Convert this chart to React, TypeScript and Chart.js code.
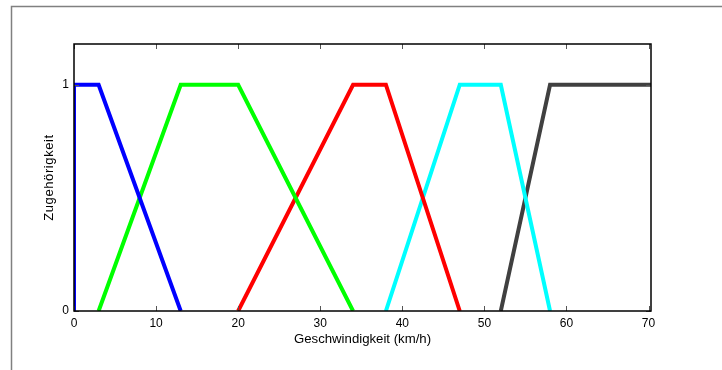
import React, { useEffect, useRef } from "react";
import { Chart, registerables } from "chart.js";

Chart.register(...registerables);

// Membership functions (x: km/h, y: membership)
const blueX = [0, 0, 3, 13];
const blueY = [0, 1, 1, 0];
const greenX = [3, 13, 20, 34];
const greenY = [0, 1, 1, 0];
const redX = [20, 34, 38, 47];
const redY = [0, 1, 1, 0];
const cyanX = [38, 47, 52, 58];
const cyanY = [0, 1, 1, 0];
const darkX = [52, 58, 70.3];
const darkY = [0, 1, 1];

const xTicks = [0, 10, 20, 30, 40, 50, 60, 70];
const yTicks = [0, 1];
const xMin = 0;
const xMax = 70.3;
const yMin = 0;
const yMax = 1.18;

const xTitle = "Geschwindigkeit (km/h)";
const yTitle = "Zugehörigkeit";

const series = [
  { xs: blueX, ys: blueY, color: "#0000ff" },
  { xs: greenX, ys: greenY, color: "#00ff00" },
  { xs: redX, ys: redY, color: "#ff0000" },
  { xs: cyanX, ys: cyanY, color: "#00ffff" },
  { xs: darkX, ys: darkY, color: "#404040" },
];

const FONT = "'Liberation Sans', Arial, Helvetica, sans-serif";

const framePlugin = {
  id: "framePlugin",
  afterLayout(chart: any) {
    const ys = chart.scales.y;
    if (ys && !ys.__patched) {
      const orig = ys.drawTitle.bind(ys);
      ys.drawTitle = function () {
        const ctx = chart.ctx;
        const prev = ctx.letterSpacing;
        try {
          ctx.letterSpacing = "0.6px";
        } catch (e) {
          /* ignore */
        }
        orig();
        try {
          ctx.letterSpacing = prev || "0px";
        } catch (e) {
          /* ignore */
        }
      };
      ys.__patched = true;
    }
  },
  beforeDraw(chart: any) {
    const ctx = chart.ctx;
    ctx.save();
    ctx.fillStyle = "#ffffff";
    ctx.fillRect(0, 0, chart.width, chart.height);
    ctx.strokeStyle = "#808080";
    ctx.lineWidth = 1.5;
    ctx.beginPath();
    ctx.moveTo(11.5, chart.height);
    ctx.lineTo(11.5, 6.5);
    ctx.lineTo(chart.width, 6.5);
    ctx.stroke();
    ctx.restore();
  },
  afterDatasetsDraw(chart: any) {
    const ctx = chart.ctx;
    const a = chart.chartArea;
    const xs = chart.scales.x;
    const ys = chart.scales.y;
    ctx.save();
    ctx.strokeStyle = "#555555";
    ctx.lineWidth = 1;
    const tl = 5;
    ctx.beginPath();
    xTicks.forEach((v) => {
      const px = Math.round(xs.getPixelForValue(v)) + 0.5;
      ctx.moveTo(px, a.bottom);
      ctx.lineTo(px, a.bottom - tl);
      ctx.moveTo(px, a.top);
      ctx.lineTo(px, a.top + tl);
    });
    yTicks.forEach((v) => {
      const py = Math.round(ys.getPixelForValue(v)) + 0.5;
      ctx.moveTo(a.left, py);
      ctx.lineTo(a.left + tl, py);
      ctx.moveTo(a.right, py);
      ctx.lineTo(a.right - tl, py);
    });
    ctx.stroke();
    ctx.strokeStyle = "#000000";
    ctx.lineWidth = 1.5;
    ctx.strokeRect(a.left, a.top, a.right - a.left, a.bottom - a.top);
    ctx.restore();
  },
};

export default function App() {
  const ref = useRef<HTMLCanvasElement | null>(null);

  useEffect(() => {
    if (!ref.current) return;
    const chart = new Chart(ref.current, {
      type: "scatter",
      data: {
        datasets: series.map((s) => ({
          data: s.xs.map((x, i) => ({ x, y: s.ys[i] })),
          showLine: true,
          borderColor: s.color,
          backgroundColor: s.color,
          borderWidth: 4,
          pointRadius: 0,
          pointHoverRadius: 0,
          borderJoinStyle: "miter" as const,
          borderCapStyle: "butt" as const,
          fill: false,
          tension: 0,
          clip: 0,
        })),
      },
      options: {
        responsive: false,
        animation: false,
        events: [],
        layout: { padding: { left: 0, top: 44, right: 71, bottom: 0 } },
        plugins: {
          legend: { display: false },
          tooltip: { enabled: false },
        },
        scales: {
          x: {
            type: "linear",
            min: xMin,
            max: xMax,
            afterBuildTicks: (scale: any) => {
              scale.ticks = xTicks.map((v) => ({ value: v }));
            },
            afterFit: (scale: any) => {
              scale.height = 59;
            },
            grid: { display: false, drawTicks: false },
            border: { display: false },
            ticks: {
              color: "#000000",
              font: { family: FONT, size: 12 },
              padding: 5,
              maxRotation: 0,
              autoSkip: false,
            },
            title: {
              display: true,
              text: xTitle,
              color: "#000000",
              font: { family: FONT, size: 13.2 },
              padding: { top: 0, bottom: 23 },
            },
          },
          y: {
            type: "linear",
            min: yMin,
            max: yMax,
            afterBuildTicks: (scale: any) => {
              scale.ticks = yTicks.map((v) => ({ value: v }));
            },
            afterFit: (scale: any) => {
              scale.width = 74;
            },
            grid: { display: false, drawTicks: false },
            border: { display: false },
            ticks: {
              color: "#000000",
              font: { family: FONT, size: 12 },
              padding: 5,
              autoSkip: false,
            },
            title: {
              display: true,
              text: yTitle,
              color: "#000000",
              font: { family: FONT, size: 13 },
              padding: { top: 42, bottom: 0 },
            },
          },
        },
      },
      plugins: [framePlugin],
    });
    return () => chart.destroy();
  }, []);

  return (
    <div style={{ position: "fixed", left: 0, top: 0, width: 722, height: 370, background: "#fff" }}>
      <canvas ref={ref} width={722} height={370} style={{ display: "block" }} />
    </div>
  );
}
